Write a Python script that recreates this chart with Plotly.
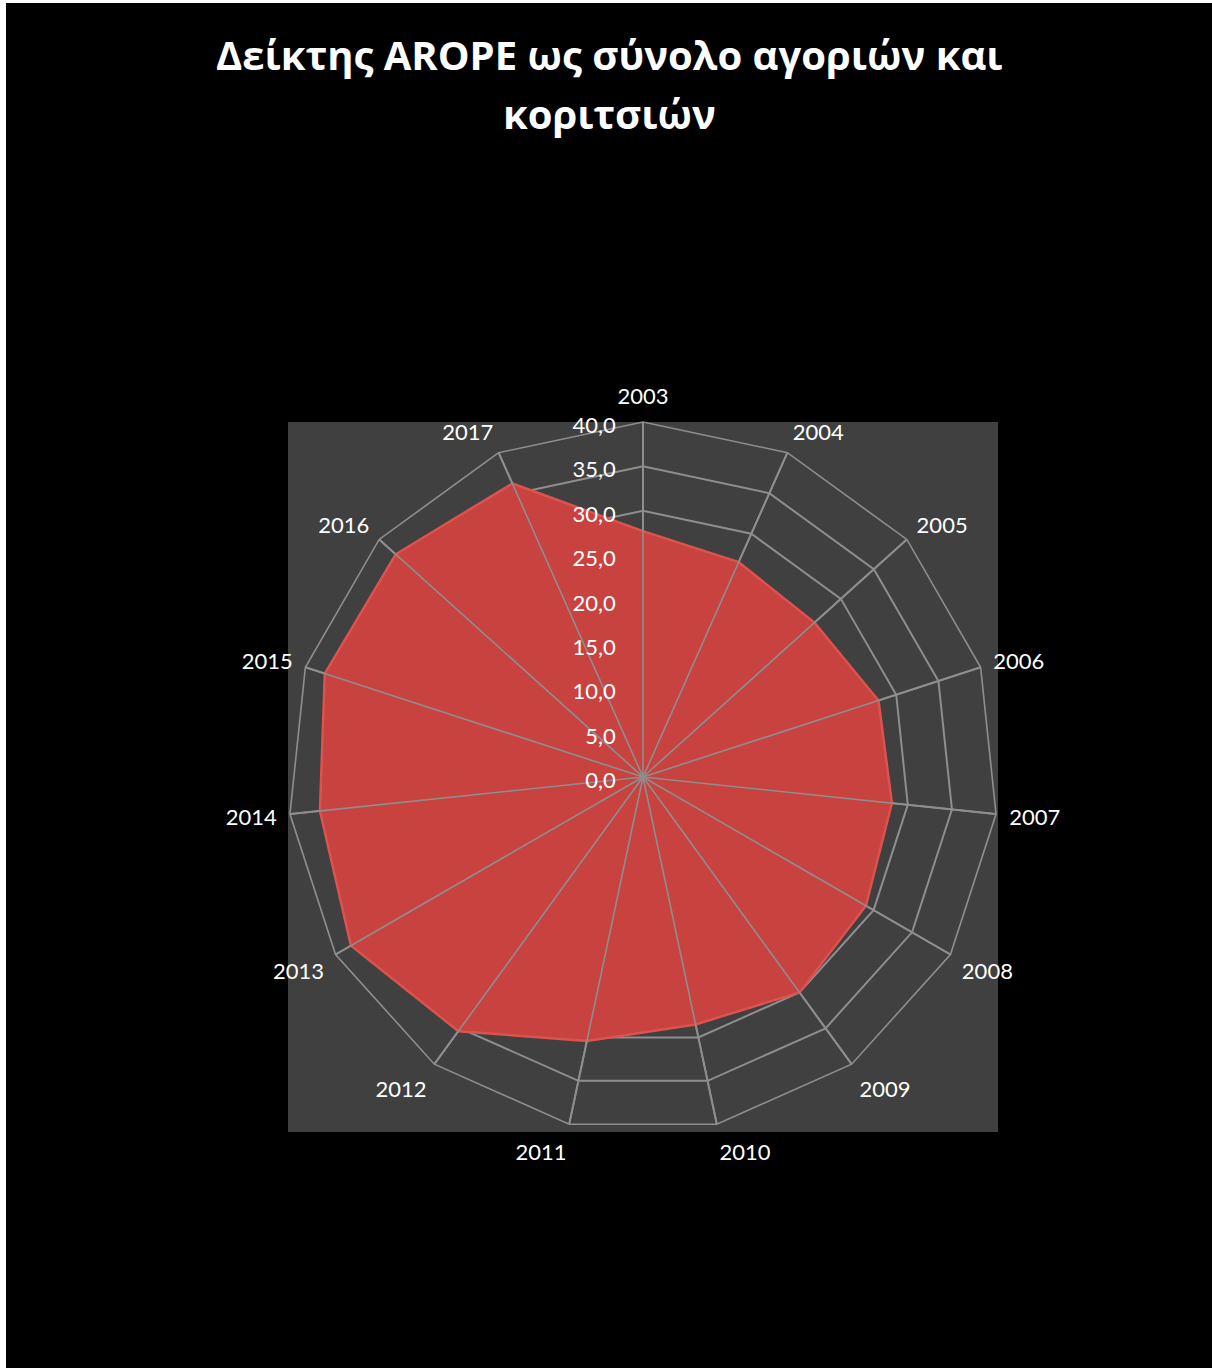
import plotly.graph_objects as go

years = ["2003", "2004", "2005", "2006", "2007", "2008", "2009", "2010",
         "2011", "2012", "2013", "2014", "2015", "2016", "2017"]
arope = [27.7, 26.5, 26.0, 27.9, 28.2, 29.0, 30.0, 28.5,
         30.4, 35.4, 38.0, 36.6, 37.7, 37.5, 36.2]
radial_ticks = [0, 5, 10, 15, 20, 25, 30, 35, 40]
title_lines = ["Δείκτης AROPE ως σύνολο αγοριών και", "κοριτσιών"]

W, H = 1212, 1368
# plot area in pixels (page coordinates)
px0, px1, py0, py1 = 288, 998, 422, 1132
GRID = "#8e8e8e"
GW = 1.6
rmax = radial_ticks[-1]

# spokes (category gridlines) drawn on top of the filled area, as in the original
spoke_r, spoke_t = [], []
for y in years:
    spoke_r += [radial_ticks[0], rmax, None]
    spoke_t += [y, y, y]

fig = go.Figure()
fig.add_trace(go.Scatterpolar(
    r=arope + [arope[0]],
    theta=years + [years[0]],
    mode="lines",
    fill="toself",
    fillcolor="#c8423f",
    line=dict(color="#dc524e", width=2.5),
    hoverinfo="r+theta",
    name="AROPE",
))
fig.add_trace(go.Scatterpolar(
    r=spoke_r,
    theta=spoke_t,
    mode="lines",
    line=dict(color=GRID, width=GW),
    hoverinfo="skip",
    connectgaps=False,
))

fig.update_layout(
    width=W, height=H,
    margin=dict(l=0, r=0, t=0, b=0),
    paper_bgcolor="black",
    plot_bgcolor="black",
    separators=",.",
    showlegend=False,
    polar=dict(
        domain=dict(x=[px0 / W, px1 / W], y=[1 - py1 / H, 1 - py0 / H]),
        bgcolor="#404040",
        gridshape="linear",
        angularaxis=dict(
            type="category",
            categoryarray=years,
            direction="clockwise",
            rotation=90,
            showline=True,
            linecolor=GRID,
            linewidth=GW,
            showgrid=True,
            gridcolor=GRID,
            gridwidth=GW,
            ticks="outside",
            ticklen=8,
            tickwidth=0,
            tickcolor="rgba(0,0,0,0)",
            tickfont=dict(family="Lato", size=22, color="white"),
        ),
        radialaxis=dict(
            range=[radial_ticks[0], rmax],
            tickvals=radial_ticks,
            tickformat=".1f",
            angle=90,
            side="counterclockwise",
            showline=False,
            showgrid=True,
            gridcolor=GRID,
            gridwidth=GW,
            ticks="outside",
            ticklen=7,
            tickwidth=0,
            tickcolor="rgba(0,0,0,0)",
            layer="above traces",
            tickfont=dict(family="Lato", size=22, color="white"),
        ),
    ),
    annotations=[
        dict(text="<b>" + title_lines[0] + "</b>", xref="paper", yref="paper",
             x=609 / W, y=1 - 54 / H, xanchor="center", yanchor="middle",
             showarrow=False, font=dict(family="Open Sans", size=40, color="white")),
        dict(text="<b>" + title_lines[1] + "</b>", xref="paper", yref="paper",
             x=609 / W, y=1 - 113 / H, xanchor="center", yanchor="middle",
             showarrow=False, font=dict(family="Open Sans", size=40, color="white")),
    ],
    shapes=[
        dict(type="rect", xref="paper", yref="paper",
             x0=px0 / W, x1=px1 / W, y0=1 - py1 / H, y1=1 - py0 / H,
             fillcolor="#404040", line=dict(width=0), layer="below"),
        # thin white edge at the top and left of the original picture
        dict(type="rect", xref="paper", yref="paper",
             x0=0, x1=1, y0=1 - 3 / H, y1=1,
             fillcolor="white", line=dict(width=0), layer="above"),
        dict(type="rect", xref="paper", yref="paper",
             x0=0, x1=6 / W, y0=0, y1=1,
             fillcolor="white", line=dict(width=0), layer="above"),
    ],
)

fig.write_html(
    "out.html",
    config={"displayModeBar": False},
    post_script="document.body.style.margin='0';document.body.style.overflow='hidden';",
)
